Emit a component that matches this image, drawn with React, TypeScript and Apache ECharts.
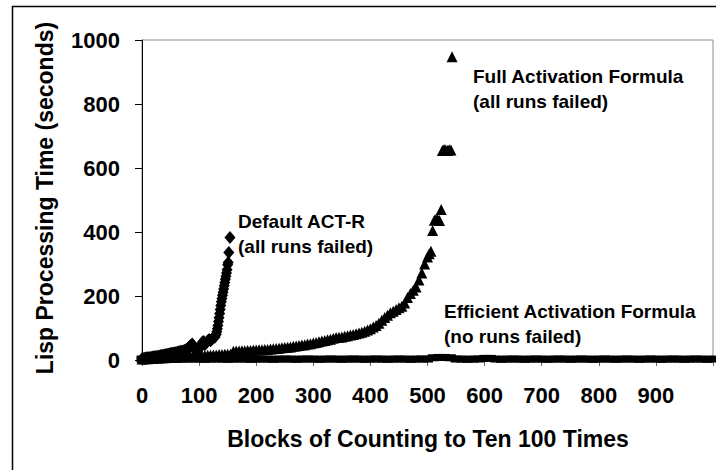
import React, { useEffect, useRef } from "react";
import * as echarts from "echarts";

const xTicks = [0, 100, 200, 300, 400, 500, 600, 700, 800, 900];
const yTicks = [0, 200, 400, 600, 800, 1000];

const defaultActR: [number, number][] = [
  [0, 4], [2, 5], [4, 5], [6, 6], [8, 6], [10, 7], [12, 7], [14, 8], [16, 8], [18, 9],
  [20, 9], [22, 10], [24, 10], [26, 11], [28, 12], [30, 12], [32, 13], [34, 14], [36, 14], [38, 15],
  [40, 16], [42, 17], [44, 17], [46, 18], [48, 19], [50, 20], [52, 20], [54, 21], [56, 22], [58, 23],
  [60, 23], [62, 24], [64, 25], [66, 26], [68, 27], [70, 27], [72, 28], [74, 30], [76, 31], [78, 33],
  [80, 36], [82, 39], [84, 43], [86, 47], [88, 50], [90, 44], [92, 36], [94, 30], [96, 26], [98, 30],
  [100, 36], [102, 42], [104, 50], [106, 56], [108, 58], [110, 48], [112, 52], [114, 58], [116, 62], [118, 64],
  [120, 60], [122, 64], [124, 68], [126, 70], [128, 72], [130, 80], [131, 88], [132, 98], [133, 108], [134, 120],
  [135, 132], [136, 145], [137, 158], [138, 170], [139, 182], [140, 192], [141, 202], [142, 212], [143, 222], [144, 232],
  [145, 242], [146, 252], [147, 262], [148, 272], [149, 282], [150, 298], [151, 305], [152, 336], [154, 383],
];

const fullActivation: [number, number][] = [
  [0, 3], [5, 4], [10, 4], [15, 5], [20, 5], [25, 6], [30, 6], [35, 7], [40, 7], [45, 8],
  [50, 8], [55, 9], [60, 9], [65, 10], [70, 10], [75, 11], [80, 11], [85, 12], [90, 12], [95, 13],
  [100, 13], [105, 14], [110, 14], [115, 15], [120, 15], [125, 16], [130, 16], [135, 17], [140, 17], [145, 18],
  [150, 18], [155, 19], [160, 27], [165, 28], [170, 28], [175, 29], [180, 29], [185, 30], [190, 30], [195, 31],
  [200, 31], [205, 32], [210, 32], [215, 33], [220, 33], [225, 34], [230, 35], [235, 36], [240, 37], [245, 38],
  [250, 39], [255, 40], [260, 41], [265, 43], [270, 44], [275, 45], [280, 47], [285, 48], [290, 50], [295, 51],
  [300, 53], [305, 55], [310, 57], [315, 59], [320, 61], [325, 63], [330, 65], [335, 68], [340, 70], [345, 71],
  [350, 72], [355, 74], [360, 76], [365, 78], [370, 80], [375, 82], [380, 84], [385, 87], [390, 90], [395, 94],
  [400, 98], [405, 103], [410, 108], [415, 115], [420, 124], [425, 133], [430, 140], [435, 148], [440, 152], [445, 158],
  [450, 163], [455, 168], [460, 178], [465, 195], [470, 208], [475, 218], [480, 228], [485, 250], [490, 272], [495, 300],
  [500, 322], [503, 332], [506, 340], [509, 405], [512, 437], [515, 440], [518, 438], [521, 436], [524, 470], [526, 655],
  [529, 658], [532, 656], [535, 655], [538, 657], [541, 656], [543, 948],
];

const efficientActivation: [number, number][] = [
  [0, 3], [10, 3], [20, 3], [30, 2], [40, 3], [50, 3], [60, 2], [70, 3], [80, 3], [90, 3],
  [100, 3], [110, 2], [120, 3], [130, 3], [140, 3], [150, 2], [160, 3], [170, 3], [180, 3], [190, 2],
  [200, 3], [210, 3], [220, 3], [230, 2], [240, 3], [250, 3], [260, 3], [270, 2], [280, 3], [290, 3],
  [300, 3], [310, 2], [320, 3], [330, 3], [340, 3], [350, 2], [360, 3], [370, 3], [380, 3], [390, 2],
  [400, 3], [410, 3], [420, 3], [430, 2], [440, 3], [450, 3], [460, 3], [470, 2], [480, 3], [490, 3],
  [500, 3], [510, 7], [520, 8], [530, 8], [540, 7], [550, 3], [560, 3], [570, 2], [580, 3], [590, 3],
  [600, 5], [610, 5], [620, 3], [630, 2], [640, 3], [650, 3], [660, 3], [670, 2], [680, 3], [690, 3],
  [700, 3], [710, 2], [720, 3], [730, 3], [740, 3], [750, 2], [760, 3], [770, 3], [780, 3], [790, 2],
  [800, 3], [810, 3], [820, 3], [830, 2], [840, 3], [850, 3], [860, 3], [870, 2], [880, 3], [890, 3],
  [900, 3], [910, 2], [920, 3], [930, 3], [940, 3], [950, 2], [960, 3], [970, 3], [980, 3], [990, 2],
  [1000, 3],
];

const yTitle = "Lisp Processing Time (seconds)";
const xTitle = "Blocks of Counting to Ten 100 Times";
const annotations = [
  { lines: ["Default ACT-R", "(all runs failed)"], x: 238, y: 221 },
  { lines: ["Full Activation Formula", "(all runs failed)"], x: 473, y: 76 },
  { lines: ["Efficient Activation Formula", "(no runs failed)"], x: 444, y: 311 },
];

const FONT = '"Liberation Sans", Arial, sans-serif';

export default function App() {
  const ref = useRef<HTMLDivElement>(null);
  useEffect(() => {
    if (!ref.current) return;
    const chart = echarts.init(ref.current, null, { renderer: "svg" });
    const graphics: any[] = [
      {
        type: "rect",
        shape: { x: 12.5, y: 6.5, width: 800, height: 600 },
        style: { fill: "none", stroke: "#000", lineWidth: 1.5 },
        z: -10,
        silent: true,
      },
      {
        type: "text",
        x: 45,
        y: 198,
        rotation: Math.PI / 2,
        style: {
          text: yTitle,
          fill: "#000",
          font: `bold 23px ${FONT}`,
          align: "center",
          verticalAlign: "middle",
        },
      },
      {
        type: "text",
        x: 428,
        y: 439,
        style: {
          text: xTitle,
          fill: "#000",
          font: `bold 23px ${FONT}`,
          align: "center",
          verticalAlign: "middle",
        },
      },
    ];
    annotations.forEach((a) => {
      a.lines.forEach((line, i) => {
        graphics.push({
          type: "text",
          x: a.x,
          y: a.y + i * 25,
          style: {
            text: line,
            fill: "#000",
            font: `bold 19px ${FONT}`,
            align: "left",
            verticalAlign: "middle",
          },
        });
      });
    });

    chart.setOption({
      animation: false,
      backgroundColor: "#fff",
      grid: {
        left: 142,
        top: 40,
        right: 1,
        bottom: 110,
        show: true,
        borderColor: "#8c8c8c",
        borderWidth: 1,
      },
      xAxis: {
        type: "value",
        min: 0,
        max: 1000,
        interval: 100,
        axisLine: { show: true, onZero: false, lineStyle: { color: "#000", width: 1.5 } },
        axisTick: { show: true, length: 6, lineStyle: { color: "#666" } },
        splitLine: { show: false },
        axisLabel: {
          margin: 24,
          color: "#000",
          fontFamily: FONT,
          fontWeight: "bold",
          fontSize: 22,
          formatter: (v: number) => (xTicks.includes(v) ? String(v) : ""),
        },
      },
      yAxis: {
        type: "value",
        min: 0,
        max: 1000,
        interval: 200,
        axisLine: { show: true, lineStyle: { color: "#000", width: 1 } },
        axisTick: { show: true, length: 7, lineStyle: { color: "#000" } },
        splitLine: { show: false },
        axisLabel: {
          margin: 22,
          color: "#000",
          fontFamily: FONT,
          fontWeight: "bold",
          fontSize: 22,
          formatter: (v: number) => (yTicks.includes(v) ? String(v) : ""),
        },
      },
      series: [
        {
          name: "Efficient Activation Formula",
          type: "scatter",
          data: efficientActivation,
          symbol: "rect",
          symbolSize: [11, 7],
          itemStyle: { color: "#000", opacity: 1 },
          clip: false,
          z: 3,
        },
        {
          name: "Full Activation Formula",
          type: "scatter",
          data: fullActivation,
          symbol: "triangle",
          symbolSize: 11,
          itemStyle: { color: "#000", opacity: 1 },
          clip: false,
          z: 4,
        },
        {
          name: "Default ACT-R",
          type: "scatter",
          data: defaultActR,
          symbol: "diamond",
          symbolSize: [11, 13],
          itemStyle: { color: "#000", opacity: 1 },
          clip: false,
          z: 5,
        },
      ],
      graphic: graphics,
    });
    return () => chart.dispose();
  }, []);
  return (
    <div
      ref={ref}
      style={{ position: "fixed", left: 0, top: 0, width: 716, height: 470 }}
    />
  );
}
